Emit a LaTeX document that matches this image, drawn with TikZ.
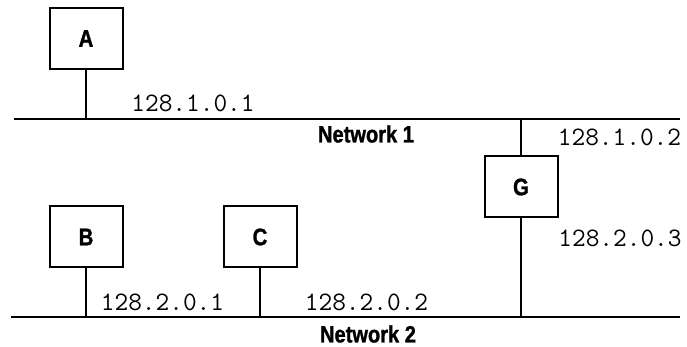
\documentclass[tikz,border=0pt]{standalone}
\usepackage{fontspec}
\newfontfamily\labelfont[FakeStretch=0.85, BoldFeatures={FakeBold=1.2}]{Liberation Sans}
\begin{document}
\begin{tikzpicture}[x=0.5pt, y=-0.5pt,
        hostbox/.style={draw, line width=1pt, minimum width=36.5pt, minimum height=30.5pt,
            inner sep=0pt, font=\labelfont\fontsize{12}{14}\selectfont\bfseries},
        addr/.style={inner sep=0pt, font=\ttfamily\fontsize{13.3}{15}\selectfont},
        netname/.style={inner sep=0pt, font=\labelfont\fontsize{11.8}{14}\selectfont\bfseries},
        wire/.style={line width=1pt}]
        \useasboundingbox (0, 0) rectangle (687, 347);

        % the two networks
        \coordinate (n1w) at (14, 119);
        \coordinate (n1e) at (680, 119);
        \coordinate (n2w) at (11, 317);
        \coordinate (n2e) at (680, 317);
        \draw[wire] (n1w) -- (n1e);
        \draw[wire] (n2w) -- (n2e);
        \node[netname] (net1) at (366, 134) {Network 1};
        \node[netname] (net2) at (368, 334) {Network 2};

        % hosts
        \node[hostbox] (A) at (86, 38.5) {A};
        \node[hostbox] (B) at (86, 237) {B};
        \node[hostbox] (C) at (260, 237) {C};
        \node[hostbox] (G) at (521, 187) {G};

        \draw[wire] (A) -- (A |- n1w);
        \draw[wire] (B) -- (B |- n2w);
        \draw[wire] (C) -- (C |- n2w);
        \draw[wire] (G) -- (G |- n1w);
        \draw[wire] (G) -- (G |- n2w);

        % addresses
        \node[addr] (ipA) at (193, 103) {128.1.0.1};
        \node[addr] (ipG1) at (619.5, 137) {128.1.0.2};
        \node[addr] (ipG2) at (620, 238) {128.2.0.3};
        \node[addr] (ipB) at (162.5, 302) {128.2.0.1};
        \node[addr] (ipC) at (366.5, 302) {128.2.0.2};
\end{tikzpicture}
\end{document}
